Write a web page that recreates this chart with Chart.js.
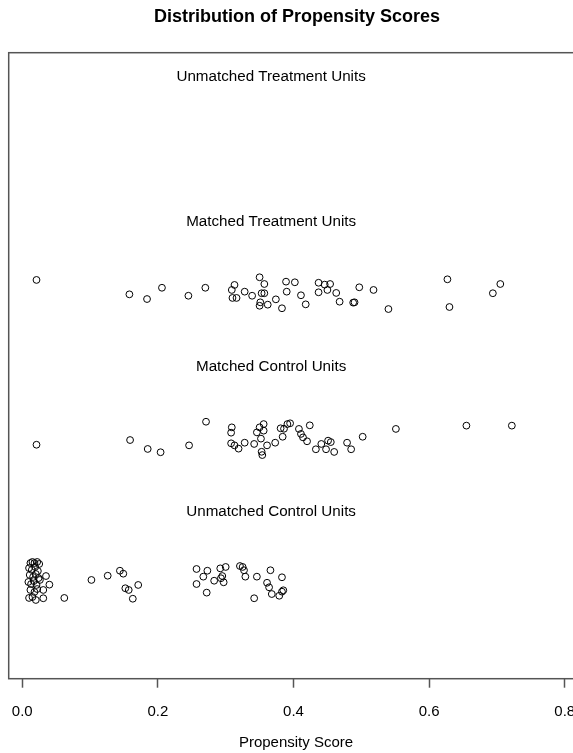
<!DOCTYPE html>
<html>
<head>
<meta charset="utf-8">
<script src="https://cdn.jsdelivr.net/npm/chart.js@4"></script>
<style>
  html, body { margin: 0; padding: 0; background: #fff; overflow: hidden; }
  #wrap { position: relative; width: 620px; height: 753px; }
</style>
</head>
<body>
<div id="wrap"><canvas id="chart-jitter"></canvas></div>
<script>
// values (x = propensity score, y = jitter height)
const groupLabels = ['Unmatched Treatment Units', 'Matched Treatment Units', 'Matched Control Units', 'Unmatched Control Units'];
const groupLabelY = [3.845, 2.918, 1.992, 1.066];
const groupLabelX = 0.367;
const xTicks = [0.0, 0.2, 0.4, 0.6, 0.8];

const matchedTreatX = [0.021, 0.158, 0.184, 0.206, 0.245, 0.270, 0.313, 0.309, 0.310, 0.316, 0.328, 0.339, 0.350, 0.357,
  0.353, 0.357, 0.351, 0.350, 0.362, 0.374, 0.383, 0.389, 0.390, 0.402, 0.411, 0.418, 0.437, 0.446, 0.454, 0.437,
  0.450, 0.463, 0.468, 0.497, 0.518, 0.488, 0.490, 0.540, 0.627, 0.630, 0.694, 0.705];
const matchedTreatY = [2.548, 2.456, 2.426, 2.498, 2.447, 2.498, 2.516, 2.484, 2.433, 2.433, 2.473, 2.447, 2.565, 2.522,
  2.463, 2.463, 2.405, 2.383, 2.390, 2.424, 2.367, 2.537, 2.473, 2.533, 2.450, 2.392, 2.530, 2.518, 2.522, 2.469,
  2.484, 2.465, 2.409, 2.501, 2.484, 2.403, 2.405, 2.362, 2.552, 2.375, 2.463, 2.522];

const matchedCtrlX = [0.021, 0.159, 0.185, 0.204, 0.246, 0.271, 0.309, 0.308, 0.308, 0.313, 0.319, 0.328, 0.342, 0.346,
  0.350, 0.356, 0.356, 0.352, 0.353, 0.354, 0.361, 0.373, 0.384, 0.386, 0.391, 0.395, 0.381, 0.408, 0.424, 0.411,
  0.414, 0.420, 0.433, 0.441, 0.448, 0.451, 0.455, 0.460, 0.479, 0.485, 0.502, 0.551, 0.655, 0.722];
const matchedCtrlY = [1.495, 1.525, 1.468, 1.447, 1.491, 1.642, 1.606, 1.572, 1.504, 1.491, 1.470, 1.508, 1.500, 1.574,
  1.606, 1.627, 1.585, 1.534, 1.450, 1.429, 1.491, 1.508, 1.546, 1.597, 1.627, 1.632, 1.600, 1.596, 1.619, 1.564,
  1.542, 1.517, 1.466, 1.500, 1.466, 1.521, 1.512, 1.449, 1.508, 1.466, 1.546, 1.596, 1.617, 1.617];

const unmatchedCtrlX = [0.012, 0.015, 0.018, 0.022, 0.025, 0.010, 0.014, 0.019, 0.023, 0.011, 0.016, 0.020, 0.024, 0.009,
  0.013, 0.017, 0.021, 0.026, 0.012, 0.018, 0.022, 0.015, 0.010, 0.020,
  0.035, 0.040, 0.031, 0.031, 0.062, 0.102, 0.126, 0.144, 0.149, 0.171, 0.152, 0.157, 0.163,
  0.257, 0.273, 0.267, 0.257, 0.272, 0.283, 0.292, 0.300, 0.295, 0.293, 0.297, 0.321, 0.325, 0.327, 0.329,
  0.346, 0.342, 0.366, 0.361, 0.364, 0.368, 0.383, 0.379, 0.385, 0.383];
const unmatchedCtrlY = [0.739, 0.746, 0.739, 0.746, 0.733, 0.707, 0.695, 0.714, 0.688, 0.663, 0.650, 0.669, 0.643, 0.618,
  0.605, 0.624, 0.599, 0.631, 0.567, 0.554, 0.573, 0.522, 0.516, 0.503,
  0.656, 0.601, 0.567, 0.514, 0.516, 0.631, 0.658, 0.690, 0.671, 0.599, 0.578, 0.567, 0.511,
  0.701, 0.690, 0.652, 0.605, 0.550, 0.626, 0.705, 0.714, 0.656, 0.642, 0.616, 0.720, 0.714, 0.693, 0.652,
  0.652, 0.514, 0.693, 0.613, 0.584, 0.541, 0.648, 0.530, 0.565, 0.556];

const FONT = '"Liberation Sans", Arial, Helvetica, sans-serif';

function toPoints(xs, ys) {
  return xs.map((x, i) => ({ x: x, y: ys[i] }));
}

function series(label, xs, ys) {
  return {
    label: label,
    data: toPoints(xs, ys),
    pointStyle: 'circle',
    pointRadius: 3.4,
    pointBorderWidth: 1,
    borderColor: '#000',
    backgroundColor: 'rgba(0,0,0,0)',
    pointHoverRadius: 3.4
  };
}

// box, group labels, title and axis title, drawn like base R graphics
const rDecor = {
  id: 'rDecor',
  afterDraw(chart) {
    const ctx = chart.ctx;
    const a = chart.chartArea;
    const xs = chart.scales.x, ys = chart.scales.y;
    ctx.save();
    ctx.strokeStyle = '#555';
    ctx.lineWidth = 1.5;
    ctx.strokeRect(a.left, a.top, a.right - a.left, a.bottom - a.top);

    ctx.fillStyle = '#000';
    ctx.textAlign = 'center';
    ctx.textBaseline = 'middle';
    ctx.font = '15.2px ' + FONT;
    groupLabels.forEach((t, i) => {
      ctx.fillText(t, xs.getPixelForValue(groupLabelX), ys.getPixelForValue(groupLabelY[i]));
    });

    ctx.font = 'bold 18px ' + FONT;
    ctx.fillText('Distribution of Propensity Scores', 297, 17);
    ctx.font = '15px ' + FONT;
    ctx.fillText('Propensity Score', 296, 743);
    ctx.restore();
  }
};

new Chart(document.getElementById('chart-jitter'), {
  type: 'scatter',
  data: {
    datasets: [
      series('Matched Treatment Units', matchedTreatX, matchedTreatY),
      series('Matched Control Units', matchedCtrlX, matchedCtrlY),
      series('Unmatched Control Units', unmatchedCtrlX, unmatchedCtrlY)
    ]
  },
  options: {
    responsive: true,
    maintainAspectRatio: false,
    animation: false,
    layout: { padding: { left: 8.7, top: 52.7, right: 7.8, bottom: 0 } },
    plugins: { legend: { display: false }, tooltip: { enabled: false } },
    scales: {
      x: {
        type: 'linear',
        min: -0.02,
        max: 0.87,
        afterBuildTicks: s => { s.ticks = xTicks.map(v => ({ value: v })); },
        afterFit: s => { s.height = 74.3; s.paddingLeft = 0; s.paddingRight = 0; },
        grid: { drawOnChartArea: false, drawTicks: true, tickLength: 9, tickColor: '#555', tickWidth: 1.5 },
        border: { display: false },
        ticks: {
          padding: 15,
          color: '#000',
          maxRotation: 0,
          font: { family: FONT, size: 15 },
          callback: v => v.toFixed(1)
        }
      },
      y: {
        type: 'linear',
        display: false,
        min: 0,
        max: 4
      }
    }
  },
  plugins: [rDecor]
});
</script>
</body>
</html>
